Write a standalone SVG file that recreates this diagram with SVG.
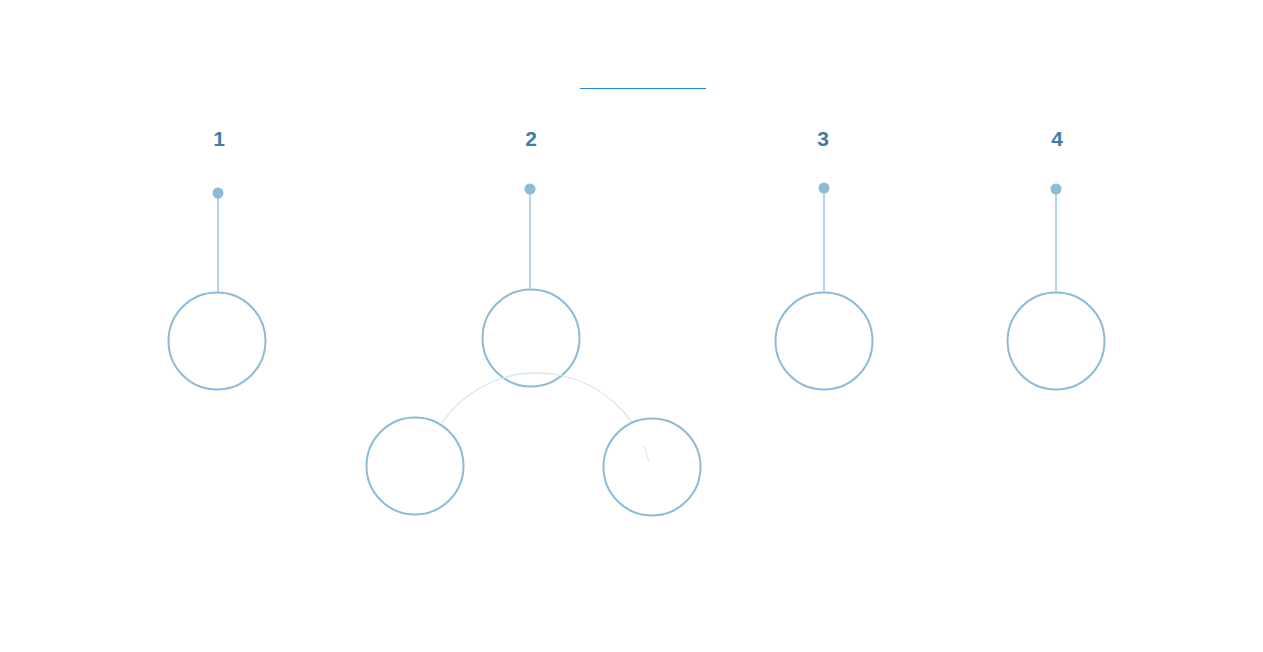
<svg xmlns="http://www.w3.org/2000/svg" width="1263" height="652" viewBox="0 0 1263 652">
<style>
.lbl{font-family:"Liberation Sans",Arial,sans-serif;font-size:21px;font-weight:bold;fill:#3d7ea6;text-anchor:middle}
.node{fill:#fff;stroke:#8bbbd6;stroke-width:2}
.pin{stroke:#b5d4e6;stroke-width:2}
.dot{fill:#8bbbd6}
.arc{fill:none;stroke:#d3e4ee;stroke-width:1.2}
</style>
<rect width="1263" height="652" fill="#fff"/>
<line x1="580" y1="88.5" x2="706" y2="88.5" stroke="#1a8ad4" stroke-width="1"/>
<g id="node1"><text class="lbl" x="219" y="146">1</text><circle class="node" cx="217" cy="341" r="48.5"/></g>
<g id="node2"><text class="lbl" x="531" y="146">2</text><circle class="node" cx="531" cy="338" r="48.5"/></g>
<g id="node3"><text class="lbl" x="823" y="146">3</text><circle class="node" cx="824" cy="341" r="48.5"/></g>
<g id="node4"><text class="lbl" x="1057" y="146">4</text><circle class="node" cx="1056" cy="341" r="48.5"/></g>
<g id="connectors">
<line class="pin" x1="218" y1="193" x2="218" y2="292"/>
<line class="pin" x1="530" y1="189" x2="530" y2="289"/>
<line class="pin" x1="824" y1="188" x2="824" y2="292"/>
<line class="pin" x1="1056" y1="189" x2="1056" y2="292"/>
<circle class="dot" cx="218" cy="193" r="5.5"/>
<circle class="dot" cx="530" cy="189" r="5.5"/>
<circle class="dot" cx="824" cy="188" r="5.5"/>
<circle class="dot" cx="1056" cy="189" r="5.5"/>
<path class="arc" d="M442,423 A115,115 0 0 1 648,458"/>
</g>
<g id="node5"><circle class="node" cx="415" cy="466" r="48.5"/></g>
<g id="node6"><circle class="node" cx="652" cy="467" r="48.5"/><line x1="644" y1="446" x2="649" y2="462" stroke="#d3e4ee" stroke-width="1"/></g>
</svg>
